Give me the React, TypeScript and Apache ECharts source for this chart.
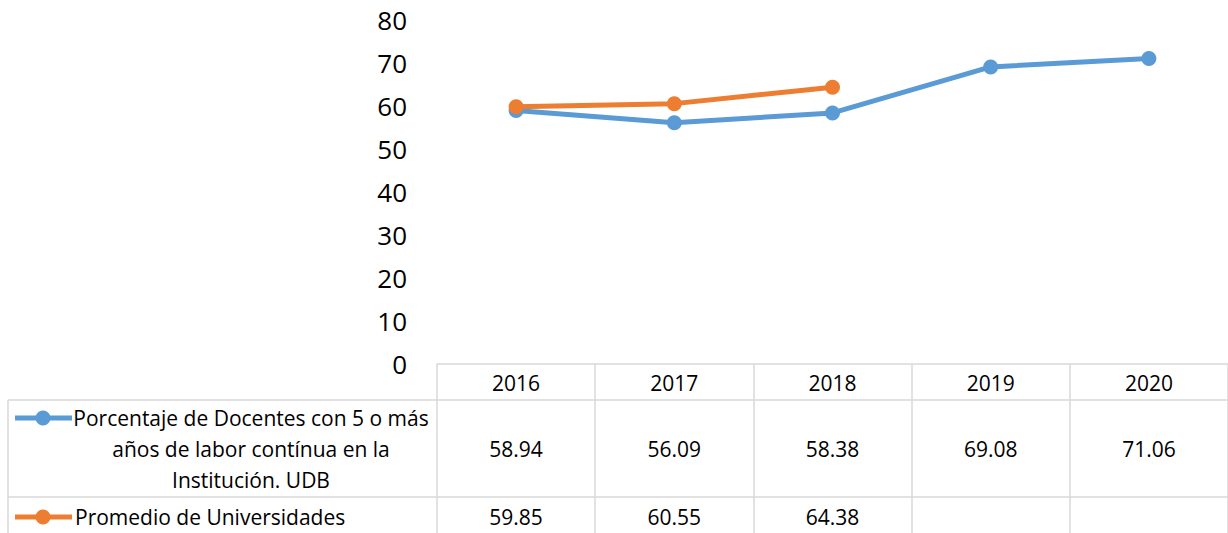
import React, { useEffect, useRef } from "react";
import * as echarts from "echarts";

const years = ["2016", "2017", "2018", "2019", "2020"];
const docentesUDB: (number | null)[] = [58.94, 56.09, 58.38, 69.08, 71.06];
const promedioUniv: (number | null)[] = [59.85, 60.55, 64.38, null, null];
const yTicks = { min: 0, max: 80, interval: 10 };
const seriesNames = [
  "Porcentaje de Docentes con 5 o más\naños de labor contínua en la\nInstitución. UDB",
  "Promedio de Universidades",
];

const BLUE = "#5B9BD5";
const ORANGE = "#ED7D31";
const GRIDC = "#d9d9d9";
const FONT = "Open Sans";

export default function App() {
  const ref = useRef<HTMLDivElement>(null);
  useEffect(() => {
    if (!ref.current) return;
    const chart = echarts.init(ref.current, undefined, { renderer: "svg" });
    const fmt = (arr: (number | null)[]) => (_v: string, i: number) =>
      arr[i] == null ? "" : (arr[i] as number).toFixed(2);
    const tableLabel = {
      fontSize: 21,
      lineHeight: 21,
      color: "#000",
      fontFamily: FONT,
      margin: 8.5,
      interval: 0,
    };
    chart.setOption({
      animation: false,
      grid: { left: 437, top: 20, width: 793, bottom: 169, containLabel: false },
      xAxis: [
        {
          type: "category",
          data: years,
          position: "bottom",
          boundaryGap: true,
          axisLine: { show: true, lineStyle: { color: GRIDC, width: 1.5 } },
          axisTick: { show: true, interval: 0, length: 169, lineStyle: { color: GRIDC, width: 1.5 } },
          axisLabel: { ...tableLabel },
        },
        {
          type: "category",
          data: years,
          position: "bottom",
          offset: 66,
          axisLine: { show: false },
          axisTick: { show: false },
          axisLabel: { ...tableLabel, formatter: fmt(docentesUDB) },
        },
        {
          type: "category",
          data: years,
          position: "bottom",
          offset: 134,
          axisLine: { show: false },
          axisTick: { show: false },
          axisLabel: { ...tableLabel, formatter: fmt(promedioUniv) },
        },
      ],
      yAxis: {
        type: "value",
        min: yTicks.min,
        max: yTicks.max,
        interval: yTicks.interval,
        axisLine: { show: false },
        axisTick: { show: false },
        splitLine: { show: false },
        axisLabel: { fontSize: 26, color: "#000", fontFamily: FONT, margin: 30 },
      },
      series: [
        {
          name: seriesNames[0],
          type: "line",
          xAxisIndex: 0,
          data: docentesUDB,
          symbol: "circle",
          symbolSize: 15,
          lineStyle: { color: BLUE, width: 5 },
          itemStyle: { color: BLUE },
        },
        {
          name: seriesNames[1],
          type: "line",
          xAxisIndex: 0,
          data: promedioUniv,
          symbol: "circle",
          symbolSize: 15,
          lineStyle: { color: ORANGE, width: 5 },
          itemStyle: { color: ORANGE },
        },
      ],
      graphic: [
        { type: "line", shape: { x1: 8, y1: 400, x2: 1228, y2: 400 }, style: { stroke: GRIDC, lineWidth: 1.5 } },
        { type: "line", shape: { x1: 8, y1: 497, x2: 1228, y2: 497 }, style: { stroke: GRIDC, lineWidth: 1.5 } },
        { type: "line", shape: { x1: 8, y1: 400, x2: 8, y2: 533 }, style: { stroke: GRIDC, lineWidth: 1.5 } },
        { type: "line", shape: { x1: 15, y1: 418, x2: 72, y2: 418 }, style: { stroke: BLUE, lineWidth: 5 } },
        { type: "circle", shape: { cx: 43, cy: 418, r: 7.5 }, style: { fill: BLUE } },
        {
          type: "text",
          x: 251,
          y: 402.5,
          style: {
            text: seriesNames[0],
            fontSize: 21,
            lineHeight: 31,
            fontFamily: FONT,
            fill: "#000",
            align: "center",
            verticalAlign: "top",
          },
        },
        { type: "line", shape: { x1: 15, y1: 517, x2: 72, y2: 517 }, style: { stroke: ORANGE, lineWidth: 5 } },
        { type: "circle", shape: { cx: 43, cy: 517, r: 7.5 }, style: { fill: ORANGE } },
        {
          type: "text",
          x: 75,
          y: 517,
          style: {
            text: seriesNames[1],
            fontSize: 21,
            fontFamily: FONT,
            fill: "#000",
            align: "left",
            verticalAlign: "middle",
          },
        },
      ],
    });
    return () => chart.dispose();
  }, []);
  return (
    <div
      ref={ref}
      style={{ position: "absolute", left: 0, top: 0, width: 1228, height: 533, background: "#fff" }}
    />
  );
}
